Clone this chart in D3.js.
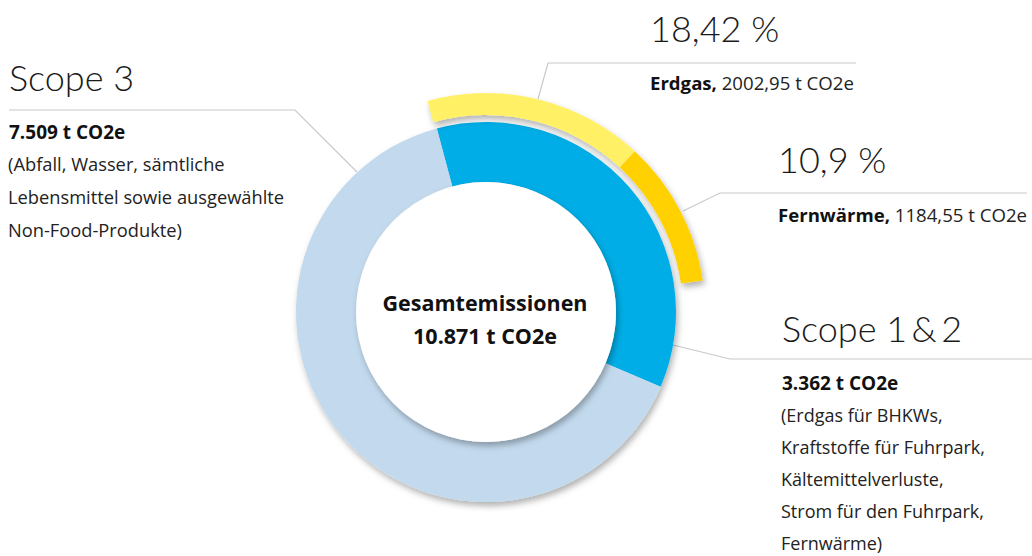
<!DOCTYPE html>
<html>
<head>
<meta charset="utf-8">
<script src="https://cdn.jsdelivr.net/npm/d3@7"></script>
<style>
  body { margin: 0; background: #fff; }
  svg { display: block; font-family: "Open Sans", sans-serif; }
  .big { font-family: Lato, sans-serif; font-weight: 300; fill: #1a1a1a; }
  .bold { font-weight: 700; fill: #111; }
  .reg { fill: #222; }
</style>
</head>
<body>
<svg id="chart"></svg>
<script>
/* DATA */
// ring shares as drawn in the picture (percent of the full circle)
const scopeNames = ["Scope 1\u2009&\u20092", "Scope 3"];
const scopeShares = [35.6, 64.4];
const scopeColors = ["#00ade6", "#c3daee"];

const fuelNames = ["Erdgas", "Fernwärme", ""];
const fuelShares = [16.2, 10.8, 73.0];
const fuelColors = ["#fff066", "#ffd100", "none"];

const fuelPercent = ["18,42 %", "10,9 %"];
const fuelAmount = ["2002,95 t CO2e", "1184,55 t CO2e"];

const scope3Amount = "7.509 t CO2e";
const scope3Lines = ["(Abfall, Wasser, sämtliche", "Lebensmittel sowie ausgewählte", "Non-Food-Produkte)"];
const scope12Amount = "3.362 t CO2e";
const scope12Lines = ["(Erdgas für BHKWs,", "Kraftstoffe für Fuhrpark,", "Kältemittelverluste,", "Strom für den Fuhrpark,", "Fernwärme)"];
const totalLines = ["Gesamtemissionen", "10.871 t CO2e"];

/* CONSTANTS */
const width = 1032,
  height = 556,
  cx = 486,
  cy = 312,
  startDeg = -15;

const toRad = d => d * Math.PI / 180;

const svg = d3.select("#chart")
  .attr("width", width)
  .attr("height", height);

const defs = svg.append("defs");
defs.append("filter")
  .attr("id", "shadow")
  .attr("x", "-20%").attr("y", "-20%")
  .attr("width", "140%").attr("height", "140%")
  .append("feDropShadow")
  .attr("dx", 2).attr("dy", 4)
  .attr("stdDeviation", 3)
  .attr("flood-color", "#000")
  .attr("flood-opacity", 0.3);

// + LEADER LINES (behind the rings)
const leaders = [
  [[9, 110], [295, 110], [357, 172]],
  [[856, 63], [548, 63], [538, 99]],
  [[1027, 193], [720, 193], [683, 211]],
  [[1032, 359], [730, 359], [673, 345]]
];
svg.append("g").selectAll("path")
  .data(leaders)
  .join("path")
  .attr("d", d3.line())
  .attr("fill", "none")
  .attr("stroke", "#c9c9c9")
  .attr("stroke-width", 1.2);

const g = svg.append("g").attr("transform", `translate(${cx},${cy})`);

// + INNER RING
const pieInner = d3.pie().sort(null)
  .startAngle(toRad(startDeg))
  .endAngle(toRad(startDeg + 360));
const arcInner = d3.arc().innerRadius(130).outerRadius(190);

g.append("g")
  .attr("filter", "url(#shadow)")
  .selectAll("path")
  .data(pieInner(scopeShares))
  .join("path")
  .attr("d", arcInner)
  .attr("fill", (d, i) => scopeColors[i]);

// shadow around the hole
g.append("circle")
  .attr("r", 130)
  .attr("fill", "#fff")
  .attr("filter", "url(#shadow)");

// + OUTER RING
const pieOuter = d3.pie().sort(null)
  .startAngle(toRad(startDeg - 0.5))
  .endAngle(toRad(startDeg - 0.5 + 360));
const arcOuter = d3.arc().innerRadius(197).outerRadius(219);

g.append("g")
  .attr("filter", "url(#shadow)")
  .selectAll("path")
  .data(pieOuter(fuelShares).filter((d, i) => fuelColors[i] !== "none"))
  .join("path")
  .attr("d", arcOuter)
  .attr("fill", (d, i) => fuelColors[i]);

// + CENTER TEXT
g.selectAll(".total")
  .data(totalLines)
  .join("text")
  .attr("class", "bold total")
  .attr("text-anchor", "middle")
  .attr("x", -1)
  .attr("y", (d, i) => -1 + i * 33)
  .attr("font-size", 21.5)
  .text(d => d);

// + SCOPE 3 LABEL
svg.append("text").attr("class", "big")
  .attr("x", 9).attr("y", 91)
  .attr("font-size", 36)
  .text(scopeNames[1]);
svg.append("text").attr("class", "bold")
  .attr("x", 9).attr("y", 139)
  .attr("font-size", 19)
  .text(scope3Amount);
svg.selectAll(".s3")
  .data(scope3Lines)
  .join("text")
  .attr("class", "reg s3")
  .attr("x", 8)
  .attr("y", (d, i) => 171 + i * 33)
  .attr("font-size", 18.3)
  .text(d => d);

// + FUEL LABELS
const fuelPos = [{ x: 650, y: 42, y2: 90 }, { x: 778, y: 173, y2: 222 }];
fuelPos.forEach((p, i) => {
  svg.append("text").attr("class", "big")
    .attr("x", p.x).attr("y", p.y)
    .attr("font-size", 36)
    .text(fuelPercent[i]);
  const t = svg.append("text")
    .attr("x", p.x).attr("y", p.y2)
    .attr("font-size", 18.6);
  t.append("tspan").attr("class", "bold").text(fuelNames[i] + ", ");
  t.append("tspan").attr("class", "reg").text(fuelAmount[i]);
});

// + SCOPE 1 & 2 LABEL
svg.append("text").attr("class", "big")
  .attr("x", 782).attr("y", 342)
  .attr("font-size", 36)
  .text(scopeNames[0]);
svg.append("text").attr("class", "bold")
  .attr("x", 782).attr("y", 390)
  .attr("font-size", 19)
  .text(scope12Amount);
svg.selectAll(".s12")
  .data(scope12Lines)
  .join("text")
  .attr("class", "reg s12")
  .attr("x", 781)
  .attr("y", (d, i) => 422 + i * 32)
  .attr("font-size", 18)
  .text(d => d);
</script>
</body>
</html>
